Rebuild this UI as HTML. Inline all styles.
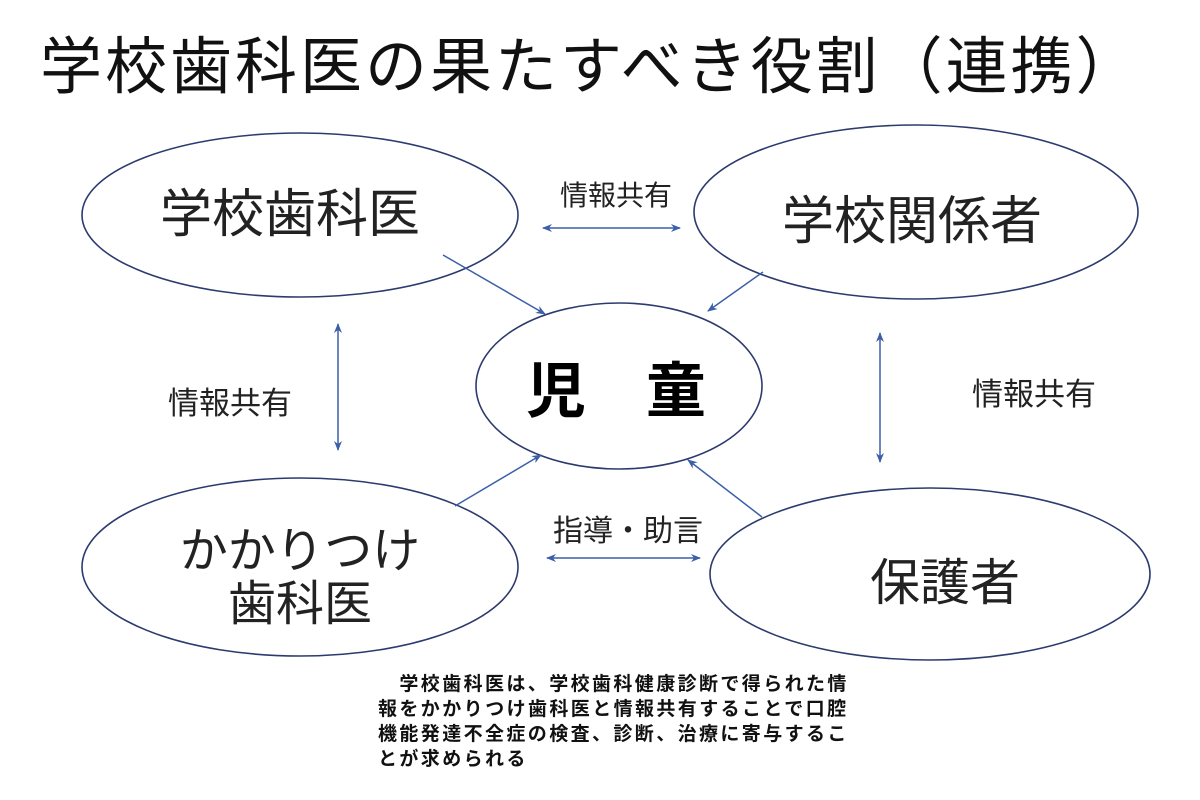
<!DOCTYPE html>
<html><head><meta charset="utf-8"><style>
html,body{margin:0;padding:0;background:#fff;}
body{width:1200px;height:800px;overflow:hidden;position:relative;font-family:"Liberation Sans","Noto Sans CJK JP",sans-serif;}
</style></head><body>
<svg width="1200" height="800" viewBox="0 0 1200 800" xmlns="http://www.w3.org/2000/svg" style="position:absolute;left:0;top:0">
<defs>
<marker id="a" markerWidth="10" markerHeight="8" refX="9" refY="4" orient="auto-start-reverse" markerUnits="userSpaceOnUse">
<path d="M0,0 L10,4 L0,8 L3,4 Z" fill="#3b5fa8"/></marker>
</defs>
<g font-family="Liberation Sans, Noto Sans CJK JP, sans-serif" fill="#111">
<text x="40" y="88" font-size="62" letter-spacing="3">学校歯科医の果たすべき役割（連携）</text>
</g>
<g fill="none" stroke="#2d3a6e" stroke-width="1.6">
<ellipse cx="300" cy="215" rx="218" ry="82"/>
<ellipse cx="916" cy="212" rx="222" ry="87"/>
<ellipse cx="619" cy="386" rx="143" ry="83"/>
<ellipse cx="300" cy="567" rx="218" ry="89"/>
<ellipse cx="930" cy="574" rx="220" ry="86"/>
</g>
<g stroke="#3b5fa8" stroke-width="1.5" fill="none">
<line x1="443" y1="255" x2="545" y2="314" marker-end="url(#a)"/>
<line x1="763" y1="272" x2="708" y2="311" marker-end="url(#a)"/>
<line x1="455" y1="506" x2="541" y2="455" marker-end="url(#a)"/>
<line x1="762" y1="517" x2="688" y2="460" marker-end="url(#a)"/>
<line x1="543" y1="228" x2="680" y2="228" marker-start="url(#a)" marker-end="url(#a)"/>
<line x1="338" y1="324" x2="338" y2="450" marker-start="url(#a)" marker-end="url(#a)"/>
<line x1="880" y1="333" x2="880" y2="462" marker-start="url(#a)" marker-end="url(#a)"/>
<line x1="547" y1="558" x2="700" y2="558" marker-start="url(#a)" marker-end="url(#a)"/>
</g>
<g font-family="Liberation Sans, Noto Sans CJK JP, sans-serif" fill="#222">
<text x="160" y="232" font-size="52">学校歯科医</text>
<text x="782" y="239" font-size="52">学校関係者</text>
<text x="526" y="412" font-size="60" font-weight="bold" fill="#000">児　童</text>
<text x="300" y="567" font-size="48" text-anchor="middle">かかりつけ</text>
<text x="300" y="620" font-size="48" text-anchor="middle">歯科医</text>
<text x="870" y="600" font-size="50">保護者</text>
<text x="560" y="205" font-size="28">情報共有</text>
<text x="168" y="414" font-size="31">情報共有</text>
<text x="972" y="405" font-size="31">情報共有</text>
<text x="553" y="541" font-size="30">指導・助言</text>
</g>
<g font-family="Liberation Sans, Noto Sans CJK JP, sans-serif" fill="#111" font-size="19" font-weight="bold" letter-spacing="2.4">
<text x="378" y="690">　学校歯科医は、学校歯科健康診断で得られた情</text>
<text x="378" y="715">報をかかりつけ歯科医と情報共有することで口腔</text>
<text x="378" y="740">機能発達不全症の検査、診断、治療に寄与するこ</text>
<text x="378" y="765">とが求められる</text>
</g>
</svg>
</body></html>
